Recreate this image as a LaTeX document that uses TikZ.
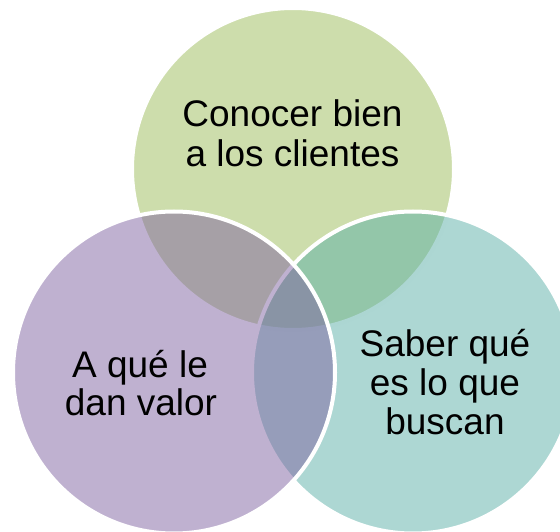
\documentclass[tikz,border=0pt]{standalone}
\usepackage{fontspec}
\setmainfont{Liberation Sans}
\definecolor{vgreen}{HTML}{9BBB59}
\definecolor{vteal}{HTML}{5BAFA7}
\definecolor{vpurple}{HTML}{8064A2}
\tikzset{
  venn/.style={circle, minimum size=322pt, inner sep=0pt, outer sep=0pt,
    fill opacity=0.5, draw=white, line width=4pt},
  lbl/.style={anchor=base, inner sep=0pt, text=black,
    font=\fontsize{37}{40}\selectfont}
}
\begin{document}
\begin{tikzpicture}[x=1pt,y=-1pt]
\useasboundingbox (0,0) rectangle (560,532);
\clip (0,0) rectangle (560,532);
\node[venn, fill=vgreen] (top) at (293,169) {};
\node[venn, fill=vteal] (right) at (413,372.5) {};
\node[venn, fill=vpurple] (left) at (174,372.5) {};
\node[lbl] (t1) at (292.5,127) {Conocer bien};
\node[lbl] (t2) at (292.5,167) {a los clientes};
\node[lbl] (l1) at (140,377) {A qué le};
\node[lbl] (l2) at (141,415) {dan valor};
\node[lbl] (r1) at (445,356) {Saber qué};
\node[lbl] (r2) at (445,395) {es lo que};
\node[lbl] (r3) at (445,434) {buscan};
\end{tikzpicture}
\end{document}
